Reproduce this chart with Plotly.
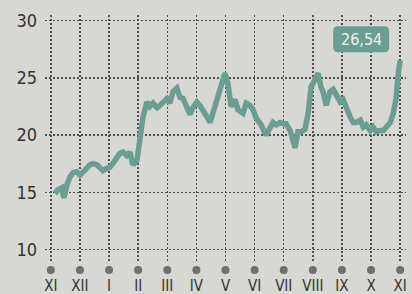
import plotly.graph_objects as go

# month positions (0 = XI of previous year, 12 = XI)
month_labels = ["XI", "XII", "I", "II", "III", "IV", "V", "VI", "VII", "VIII", "IX", "X", "XI"]
month_pos = list(range(13))

y_ticks = [10, 15, 20, 25, 30]

# series: x in months since start, value
x_vals = [0.14, 0.24, 0.38, 0.45, 0.55, 0.65, 0.76, 0.89, 1.00, 1.10,
          1.24, 1.34, 1.44, 1.58, 1.68, 1.79, 1.93, 2.03, 2.13, 2.27,
          2.37, 2.48, 2.61, 2.72, 2.82, 2.96, 3.03, 3.10, 3.16, 3.30,
          3.40, 3.51, 3.65, 3.75, 3.85, 3.99, 4.09, 4.20, 4.33, 4.44,
          4.54, 4.68, 4.78, 4.88, 5.02, 5.12, 5.23, 5.36, 5.47, 5.57,
          5.71, 5.81, 5.91, 5.98, 6.09, 6.19, 6.33, 6.43, 6.60, 6.71,
          6.84, 6.95, 7.05, 7.22, 7.39, 7.53, 7.63, 7.74, 7.88, 7.98,
          8.08, 8.22, 8.32, 8.39, 8.49, 8.60, 8.73, 8.84, 8.94, 9.08,
          9.18, 9.28, 9.35, 9.46, 9.59, 9.70, 9.80, 9.94, 10.04, 10.14,
          10.28, 10.39, 10.49, 10.63, 10.73, 10.83, 10.97, 11.07, 11.18, 11.31,
          11.42, 11.52, 11.66, 11.76, 11.86, 11.93, 12.00]
y_vals = [14.9, 15.2, 15.4, 14.5, 15.6, 16.3, 16.7, 16.8, 16.5, 16.7,
          17.1, 17.4, 17.5, 17.4, 17.1, 16.9, 17.1, 17.2, 17.5, 18.0,
          18.4, 18.5, 18.2, 18.5, 17.4, 17.8, 19.0, 20.0, 21.5, 22.9,
          22.5, 22.8, 22.4, 22.6, 22.9, 23.2, 22.8, 23.8, 24.1, 23.3,
          23.2, 22.4, 21.8, 22.4, 22.9, 22.6, 22.2, 21.6, 21.1, 21.9,
          23.2, 23.8, 24.6, 25.4, 24.4, 22.5, 23.1, 22.2, 21.9, 22.8,
          22.6, 22.2, 21.5, 20.9, 20.0, 20.6, 21.1, 20.9, 21.1, 21.0,
          21.0, 20.4, 19.6, 18.9, 20.3, 20.3, 20.5, 21.9, 24.2, 25.0,
          25.4, 24.2, 23.8, 22.6, 23.8, 24.0, 23.5, 22.9, 23.1, 22.4,
          21.6, 21.1, 21.1, 21.3, 20.7, 20.9, 20.4, 20.7, 20.3, 20.4,
          20.4, 20.7, 21.1, 21.9, 23.2, 25.3, 26.54]

BG = "#d7d7d3"
LINE = "#6a9e92"
GRID = "#4e4e4e"
TXT = "#333333"
FONT = "Liberation Sans Narrow, DejaVu Sans Condensed, Arial Narrow, sans-serif"

y_range = [8.9, 30.5]

fig = go.Figure()

fig.add_trace(go.Scatter(
    x=x_vals, y=y_vals, mode="lines",
    line=dict(color=LINE, width=5.5, shape="linear"),
    hoverinfo="skip", showlegend=False,
))

last_x, last_y = x_vals[-1], y_vals[-1]
label = f"{last_y:.2f}".replace(".", ",")

# decorative month dots below the axis (pixel-sized circles anchored on each month)
for m in month_pos:
    fig.add_shape(type="circle", xref="x", yref="paper",
                  xsizemode="pixel", ysizemode="pixel",
                  xanchor=m, yanchor=0,
                  x0=-4, x1=4, y0=-12, y1=-4,
                  fillcolor="#6f6f6f", line=dict(width=0), layer="above")

# rounded label box anchored on the last point
r = 5
x0, x1, y0, y1 = -67, -11, 8, 34
path = (f"M {x0+r},{y0} L {x1-r},{y0} Q {x1},{y0} {x1},{y0+r} "
        f"L {x1},{y1-r} Q {x1},{y1} {x1-r},{y1} L {x0+r},{y1} "
        f"Q {x0},{y1} {x0},{y1-r} L {x0},{y0+r} Q {x0},{y0} {x0+r},{y0} Z")
fig.add_shape(type="path", path=path, xref="x", yref="y",
              xsizemode="pixel", ysizemode="pixel",
              xanchor=last_x, yanchor=last_y,
              fillcolor=LINE, line=dict(width=0), layer="above")
fig.add_annotation(x=last_x, y=last_y, text=label, showarrow=False,
                   xshift=(x0 + x1) / 2, yshift=(y0 + y1) / 2,
                   font=dict(family=FONT, size=16, color="#f2f2ee"))

fig.update_layout(
    width=412, height=294,
    margin=dict(l=45, r=6, t=15, b=32, autoexpand=False),
    paper_bgcolor=BG, plot_bgcolor=BG,
    font=dict(family=FONT, color=TXT),
)
fig.update_xaxes(
    range=[-0.2, 12.2], tickmode="array", tickvals=month_pos, ticktext=month_labels,
    showgrid=True, gridcolor=GRID, gridwidth=1.5, griddash="2px,2px",
    zeroline=False, showline=False, ticks="", automargin=False,
    tickfont=dict(size=15, color=TXT), ticklabelstandoff=13,
)
fig.update_yaxes(
    range=y_range, tickmode="array", tickvals=y_ticks,
    showgrid=True, gridcolor=GRID, gridwidth=1.5, griddash="2px,2px",
    zeroline=False, showline=False, ticks="", automargin=False,
    tickfont=dict(size=18, color=TXT), ticklabelstandoff=7,
)

fig.write_html("out.html",
               config={"displayModeBar": False, "staticPlot": True},
               post_script="document.body.style.margin='0';"
                           "document.body.style.background='" + BG + "';")
